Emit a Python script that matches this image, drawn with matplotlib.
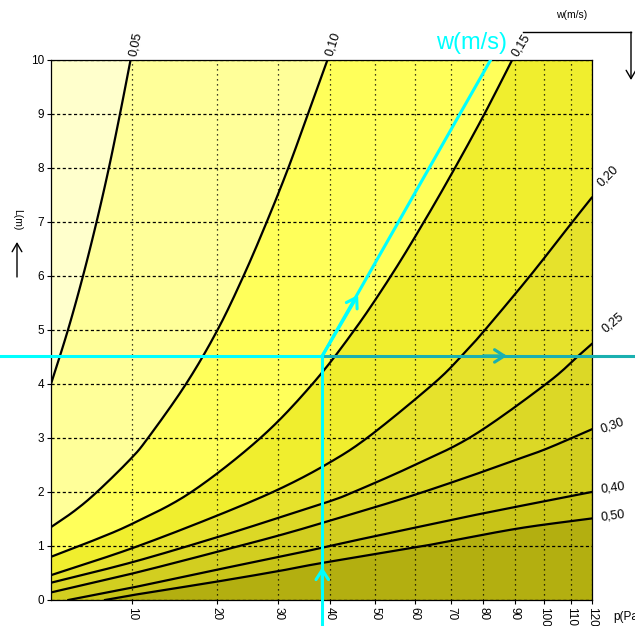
import numpy as np
import matplotlib
matplotlib.use('Agg')
import matplotlib.pyplot as plt
from matplotlib.lines import Line2D
from matplotlib.patches import FancyArrowPatch

plt.rcParams['font.family'] = ['Liberation Sans', 'DejaVu Sans']

# p axis is not linear: calibration of tick value -> position along the axis
P_KNOTS = [4, 10, 20, 30, 40, 50, 60, 70, 80, 90, 100, 110, 120]
U_KNOTS = [0, 81.3, 165.7, 227.3, 279, 324.3, 363.7, 400, 432.3, 464, 493.3, 519.7, 540.7]
L_UNIT = 54.0  # same units per metre of L, only used to smooth the curves evenly

P_MIN, P_MAX, L_MAX = 4, 120, 10
P_TICKS = [10, 20, 30, 40, 50, 60, 70, 80, 90, 100, 110, 120]
L_TICKS = list(range(0, 11))

# curves of constant w (m/s): p (Pa) vs L (m)
w_labels = ['0,05', '0,10', '0,15', '0,20', '0,25', '0,30', '0,40', '0,50']

p_005 = [4.0, 5.25, 6.36, 7.36, 8.27, 9.09, 9.87]
L_005 = [4.0, 5, 6, 7, 8, 9, 10]

p_010 = [4.0, 5.73, 7.39, 9.83, 11.86, 16.36, 20.13, 24.35, 28.12, 31.93, 35.73, 39.5]
L_010 = [1.35, 1.65, 2.0, 2.6, 3.0, 4.0, 5, 6, 7, 8, 9, 10]

p_015 = [4.0, 6.9, 10.1, 17.0, 27.09, 36.6, 45.39, 53.96, 62.53, 71.21, 80.35, 89.1]
L_015 = [0.80, 1.08, 1.42, 2.0, 3, 4, 5, 6, 7, 8, 9, 10]

p_020 = [4.0, 10, 20, 30.3, 40, 48.8, 65.1, 73.3, 80.5, 95.1, 110.8, 120]
L_020 = [0.46, 0.96, 1.56, 2.06, 2.55, 3.04, 4.0, 4.52, 5.0, 6.0, 7.0, 7.45]

p_025 = [4.0, 10, 20, 30.3, 40, 45.5, 59.7, 77.0, 100.9, 113.6, 120]
L_025 = [0.32, 0.70, 1.16, 1.53, 1.83, 2.01, 2.49, 3.05, 4.01, 4.52, 4.74]

p_030 = [4.0, 10, 20, 30.3, 40, 57.1, 73.8, 90, 100.8, 120]
L_030 = [0.14, 0.49, 0.89, 1.20, 1.47, 1.88, 2.25, 2.59, 2.80, 3.16]

p_040 = [5.28, 10, 20, 30.3, 38.1, 45.9, 61.5, 73.8, 91.7, 120]
L_040 = [0, 0.23, 0.56, 0.80, 0.96, 1.11, 1.36, 1.53, 1.74, 2.0]

p_050 = [7.99, 10, 20, 30.3, 38.1, 61.5, 68.8, 91.7, 120]
L_050 = [0, 0.09, 0.34, 0.54, 0.68, 0.99, 1.08, 1.33, 1.51]

curves = [(p_005, L_005), (p_010, L_010), (p_015, L_015), (p_020, L_020),
          (p_025, L_025), (p_030, L_030), (p_040, L_040), (p_050, L_050)]

# example reading (cyan)
P_SEL = 38.5
L_SEL = 4.52
P_DIAG_END = 82.3

# band colours, from the band left of 0.05 down to the band below 0.50
band_colors = ['#FFFFCC', '#FFFF99', '#FFFF5A', '#F0EE2E', '#E6E22C',
               '#DCD826', '#D2CE20', '#C8C418', '#B3AF10']

CYAN = '#00FFFF'
TEAL = '#1AB0B0'


def fwd(p):
    return np.interp(p, P_KNOTS, U_KNOTS)


def inv(u):
    return np.interp(u, U_KNOTS, P_KNOTS)


def smooth(p, L, n=16):
    # Catmull-Rom through the read points, in axis space
    pts = np.column_stack([fwd(np.asarray(p, float)), np.asarray(L, float) * L_UNIT])
    P = np.vstack([2 * pts[0] - pts[1], pts, 2 * pts[-1] - pts[-2]])
    t = np.linspace(0, 1, n, endpoint=False)[:, None]
    out = []
    for i in range(1, len(P) - 2):
        p0, p1, p2, p3 = P[i - 1], P[i], P[i + 1], P[i + 2]
        out.append(0.5 * (2 * p1 + (-p0 + p2) * t + (2 * p0 - 5 * p1 + 4 * p2 - p3) * t ** 2
                          + (-p0 + 3 * p1 - 3 * p2 + p3) * t ** 3))
    out.append(pts[-1:])
    res = np.vstack(out)
    return inv(res[:, 0]), np.clip(res[:, 1] / L_UNIT, 0, L_MAX)


def region_above(p, L):
    px, ly = list(p), list(L)
    if ly[0] == 0:
        px = [P_MIN] + px
        ly = [0] + ly
    if ly[-1] < L_MAX:
        px.append(P_MAX)
        ly.append(L_MAX)
    px.append(P_MIN)
    ly.append(L_MAX)
    return px, ly


fig = plt.figure(figsize=(6.35, 6.26), dpi=100)
ax = fig.add_axes([51 / 635, 26 / 626, 540.7 / 635, 540 / 626])
ax.set_xscale('function', functions=(fwd, inv))
ax.set_xlim(P_MIN, P_MAX)
ax.set_ylim(0, L_MAX)
ax.set_facecolor(band_colors[-1])

smooth_curves = [smooth(p, L) for p, L in curves]

# bands: darkest first, each lighter band covers everything above-left of its curve
for i in range(len(smooth_curves) - 1, -1, -1):
    px, ly = region_above(*smooth_curves[i])
    ax.fill(px, ly, color=band_colors[i], lw=0, zorder=0.5)

for p, L in smooth_curves:
    ax.plot(p, L, color='black', lw=1.6, zorder=2)

# labels of the curves
label_offsets = [(5, 16), (6, 16), (9, 15), (16, 21), (21, 21), (21, 4), (21, 4), (21, 3)]
label_rot = [78, 72, 58, 45, 40, 20, 8, 8]
for (p, L), lbl, off, rot in zip(curves, w_labels, label_offsets, label_rot):
    ax.annotate(lbl, xy=(p[-1], L[-1]), xytext=off, textcoords='offset pixels',
                ha='center', va='center', rotation=rot, fontsize=9,
                annotation_clip=False)

ax.set_xticks(P_TICKS)
ax.set_xticklabels([str(v) for v in P_TICKS], rotation=270)
ax.set_yticks(L_TICKS)
ax.tick_params(axis='both', direction='out', length=3, width=0.8, labelsize=8.5, pad=2)
ax.xaxis.grid(True, color='black', linestyle=(0, (1, 3)), lw=0.9)
ax.yaxis.grid(True, color='black', linestyle=(0, (2.5, 2)), lw=0.9)
for s in ax.spines.values():
    s.set_linewidth(0.9)

# cyan reading path
frac_sel = (fwd(P_SEL) - fwd(P_MIN)) / (fwd(P_MAX) - fwd(P_MIN))
ytr = ax.get_yaxis_transform()
ax.plot([-0.1, frac_sel], [L_SEL, L_SEL], transform=ytr, color=CYAN, lw=2.2,
        clip_on=False, zorder=4)
ax.plot([frac_sel, 1.1], [L_SEL, L_SEL], transform=ytr, color=TEAL, lw=2.2,
        clip_on=False, zorder=4)
ax.plot([P_SEL, P_SEL], [-0.6, L_SEL], color=CYAN, lw=2.2, clip_on=False, zorder=4)
ax.plot([P_SEL, P_DIAG_END], [L_SEL, L_MAX], color=CYAN, lw=2.2, zorder=4)

arrow_style = '->,head_length=0.7,head_width=0.45'
ax.annotate('', xy=(P_SEL, 0.61), xytext=(P_SEL, 0.2),
            arrowprops=dict(arrowstyle=arrow_style, color=CYAN, lw=2.2, shrinkA=0, shrinkB=0))
ax.annotate('', xy=(87.5, L_SEL), xytext=(80, L_SEL),
            arrowprops=dict(arrowstyle=arrow_style, color=TEAL, lw=2.2, shrinkA=0, shrinkB=0))
ax.annotate('', xy=(46.2, 5.65), xytext=(P_SEL, L_SEL),
            arrowprops=dict(arrowstyle=arrow_style, color=CYAN, lw=2.2, shrinkA=0, shrinkB=0))

fig.text(472 / 635, 1 - 43 / 626, 'w(m/s)', color=CYAN, fontsize=17, ha='center', va='center')

# axis captions
fig.text(572 / 635, 1 - 15 / 626, 'w(m/s)', fontsize=7.5, ha='center', va='center')
fig.add_artist(Line2D([523 / 635, 631 / 635], [1 - 32 / 626, 1 - 32 / 626],
                      color='black', lw=1, transform=fig.transFigure))
fig.add_artist(FancyArrowPatch((631 / 635, 1 - 32 / 626), (631 / 635, 1 - 80 / 626),
                               transform=fig.transFigure, arrowstyle='->,head_length=0.6,head_width=0.35',
                               mutation_scale=10, color='black', lw=1, shrinkA=0, shrinkB=0))

fig.text(17 / 635, 1 - 220 / 626, 'L(m)', rotation=270, fontsize=7.5, ha='center', va='center')
fig.add_artist(FancyArrowPatch((17 / 635, 1 - 277 / 626), (17 / 635, 1 - 242 / 626),
                               transform=fig.transFigure, arrowstyle='->,head_length=0.6,head_width=0.35',
                               mutation_scale=10, color='black', lw=1, shrinkA=0, shrinkB=0))

# the reference cuts this caption at the right edge of the image
fig.text(613 / 635, 1 - 617 / 626, 'p(Pa)', fontsize=8.5, ha='left', va='center')

fig.savefig('out.png', dpi=100)
